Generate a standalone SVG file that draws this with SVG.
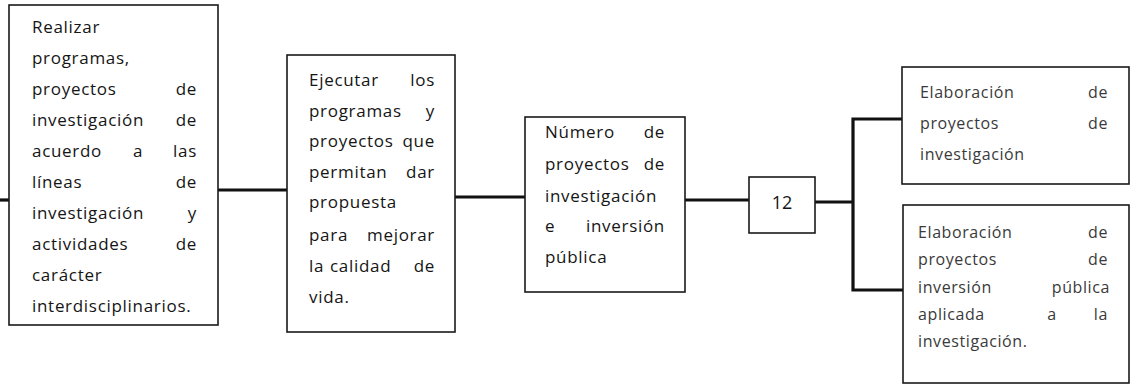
<svg xmlns="http://www.w3.org/2000/svg" width="1136" height="390" viewBox="0 0 1136 390">
<style>
.box{fill:#fff;stroke:#1a1a1a;stroke-width:1.6}
.t{font-family:"Open Sans","Noto Sans",sans-serif;font-size:17px;fill:#151515;letter-spacing:0.7px}
.t2{font-family:"Open Sans","Noto Sans",sans-serif;font-size:16px;fill:#3a3a3a;letter-spacing:0.6px}
.e{text-anchor:end}
.m{text-anchor:middle}
.c{fill:none;stroke:#111;stroke-width:3.2}
</style>
<rect width="1136" height="390" fill="#fff"/>
<g id="connectors">
<path class="c" d="M0 200H9"/>
<path class="c" d="M218 190H287"/>
<path class="c" d="M455 197H525"/>
<path class="c" d="M685 200H749"/>
<path class="c" d="M815 202H853"/>
<path class="c" stroke-width="4" d="M902 119H853V290H903"/>
</g>
<g id="n1">
<rect class="box" x="9" y="5" width="209" height="320"/>
<text class="t" x="32" y="33">Realizar</text>
<text class="t" x="32" y="64">programas,</text>
<text class="t" x="32" y="95">proyectos</text><text class="t e" x="197" y="95">de</text>
<text class="t" x="32" y="126">investigación</text><text class="t e" x="197" y="126">de</text>
<text class="t" x="32" y="157">acuerdo</text><text class="t m" x="138" y="157">a</text><text class="t e" x="197" y="157">las</text>
<text class="t" x="32" y="188">líneas</text><text class="t e" x="197" y="188">de</text>
<text class="t" x="32" y="219">investigación</text><text class="t e" x="197" y="219">y</text>
<text class="t" x="32" y="250">actividades</text><text class="t e" x="197" y="250">de</text>
<text class="t" x="32" y="281">carácter</text>
<text class="t" x="32" y="312">interdisciplinarios.</text>
</g>
<g id="n2">
<rect class="box" x="287" y="55" width="168" height="277"/>
<text class="t" x="309" y="86">Ejecutar</text><text class="t e" x="435" y="86">los</text>
<text class="t" x="309" y="117">programas</text><text class="t e" x="435" y="117">y</text>
<text class="t" x="309" y="147">proyectos</text><text class="t e" x="435" y="147">que</text>
<text class="t" x="309" y="178">permitan</text><text class="t e" x="435" y="178">dar</text>
<text class="t" x="309" y="208">propuesta</text>
<text class="t" x="309" y="241">para</text><text class="t e" x="435" y="241">mejorar</text>
<text class="t" x="309" y="272">la</text><text class="t" x="330" y="272">calidad</text><text class="t e" x="435" y="272">de</text>
<text class="t" x="309" y="303">vida.</text>
</g>
<g id="n3">
<rect class="box" x="525" y="117" width="160" height="175"/>
<text class="t" x="545" y="138">Número</text><text class="t e" x="665" y="138">de</text>
<text class="t" x="545" y="170">proyectos</text><text class="t e" x="665" y="170">de</text>
<text class="t" x="545" y="202">investigación</text>
<text class="t" x="545" y="232">e</text><text class="t e" x="665" y="232">inversión</text>
<text class="t" x="545" y="263">pública</text>
</g>
<g id="n4">
<rect class="box" x="749" y="177" width="66" height="56"/>
<text class="t m" x="782" y="209" style="font-size:18px;letter-spacing:0">12</text>
</g>
<g id="n5">
<rect class="box" x="902" y="67" width="227" height="117"/>
<text class="t2" x="920" y="98">Elaboración</text><text class="t2 e" x="1108" y="98">de</text>
<text class="t2" x="920" y="129">proyectos</text><text class="t2 e" x="1108" y="129">de</text>
<text class="t2" x="920" y="160">investigación</text>
</g>
<g id="n6">
<rect class="box" x="903" y="205" width="226" height="178"/>
<text class="t2" x="918" y="238">Elaboración</text><text class="t2 e" x="1108" y="238">de</text>
<text class="t2" x="918" y="265">proyectos</text><text class="t2 e" x="1108" y="265">de</text>
<text class="t2" x="918" y="293">inversión</text><text class="t2 e" x="1110" y="293">pública</text>
<text class="t2" x="918" y="320">aplicada</text><text class="t2 m" x="1052" y="320">a</text><text class="t2 e" x="1108" y="320">la</text>
<text class="t2" x="918" y="347">investigación.</text>
</g>
</svg>
